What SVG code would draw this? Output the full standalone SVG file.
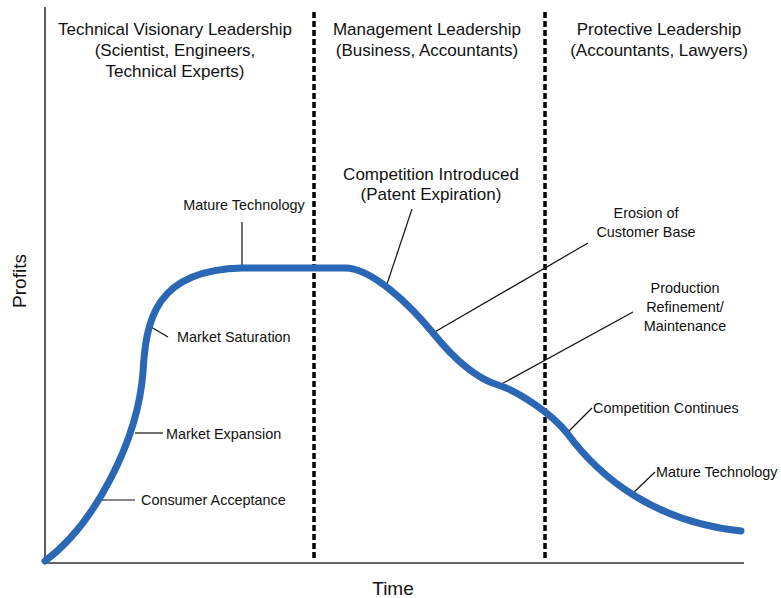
<svg xmlns="http://www.w3.org/2000/svg" width="781" height="598" viewBox="0 0 781 598">
<style>
.big{font-family:"Liberation Sans",Arial,sans-serif;font-size:17px;fill:#111;text-anchor:middle}
.ax{font-family:"Liberation Sans",Arial,sans-serif;font-size:19px;fill:#111;text-anchor:middle}
.sm{font-family:"Liberation Sans",Arial,sans-serif;font-size:14.4px;fill:#111}
.axis{stroke:#333;stroke-width:1.6;fill:none}
.div{stroke:#000;stroke-width:3.5;stroke-dasharray:6,3;fill:none}
.lead{stroke:#111;stroke-width:1.2;fill:none}
.curve{stroke:#2a67b4;stroke-width:7;fill:none;stroke-linecap:round;stroke-linejoin:round}
</style>
<rect width="781" height="598" fill="#fff"/>
<g id="axes">
<path class="axis" d="M45,7 V563 H744"/>
<text x="26" y="281" class="ax" transform="rotate(-90 26 281)">Profits</text>
<text x="393" y="595" class="ax">Time</text>
</g>
<g id="dividers">
<line class="div" x1="314" y1="12" x2="314" y2="561"/>
<line class="div" x1="545" y1="12" x2="545" y2="561"/>
</g>
<g id="headers">
<g id="phase-technical">
<text class="big" x="175" y="35">Technical Visionary Leadership</text>
<text class="big" x="175" y="56">(Scientist, Engineers,</text>
<text class="big" x="175" y="77">Technical Experts)</text>
</g>
<g id="phase-management">
<text class="big" x="427" y="35">Management Leadership</text>
<text class="big" x="427" y="56">(Business, Accountants)</text>
</g>
<g id="phase-protective">
<text class="big" x="659" y="35">Protective Leadership</text>
<text class="big" x="659" y="56">(Accountants, Lawyers)</text>
</g>
</g>
<g id="connectors">
<line class="lead" x1="102" y1="500" x2="135" y2="500"/>
<line class="lead" x1="135" y1="433" x2="163" y2="433"/>
<line class="lead" x1="151" y1="327" x2="168" y2="337"/>
<line class="lead" x1="242" y1="222" x2="242" y2="268"/>
<line class="lead" x1="387" y1="284" x2="412" y2="209"/>
<line class="lead" x1="433" y1="333" x2="588" y2="243"/>
<line class="lead" x1="498" y1="386" x2="633" y2="312"/>
<line class="lead" x1="567" y1="433" x2="592" y2="408"/>
<line class="lead" x1="630" y1="496" x2="655" y2="472"/>
</g>
<g id="curve">
<path class="curve" d="M45,561 C95,524 138,440 143,372 C146,320 155,270 242,268 L345,268 C372,268 410,305 433,333 C458,364 478,379 498,385 C518,391 552,414 567,433 C600,478 655,522 741,531"/>
</g>
<g id="labels">
<text class="sm" x="141" y="505">Consumer Acceptance</text>
<text class="sm" x="166" y="439">Market Expansion</text>
<text class="sm" x="177" y="342">Market Saturation</text>
<text class="sm" x="244" y="210" text-anchor="middle">Mature Technology</text>
<text class="big" x="431" y="180">Competition Introduced</text>
<text class="big" x="431" y="200">(Patent Expiration)</text>
<text class="sm" x="646" y="218" text-anchor="middle">Erosion of</text>
<text class="sm" x="646" y="237" text-anchor="middle">Customer Base</text>
<text class="sm" x="685" y="293" text-anchor="middle">Production</text>
<text class="sm" x="685" y="312" text-anchor="middle">Refinement/</text>
<text class="sm" x="685" y="331" text-anchor="middle">Maintenance</text>
<text class="sm" x="593" y="413">Competition Continues</text>
<text class="sm" x="656" y="477">Mature Technology</text>
</g>
</svg>
